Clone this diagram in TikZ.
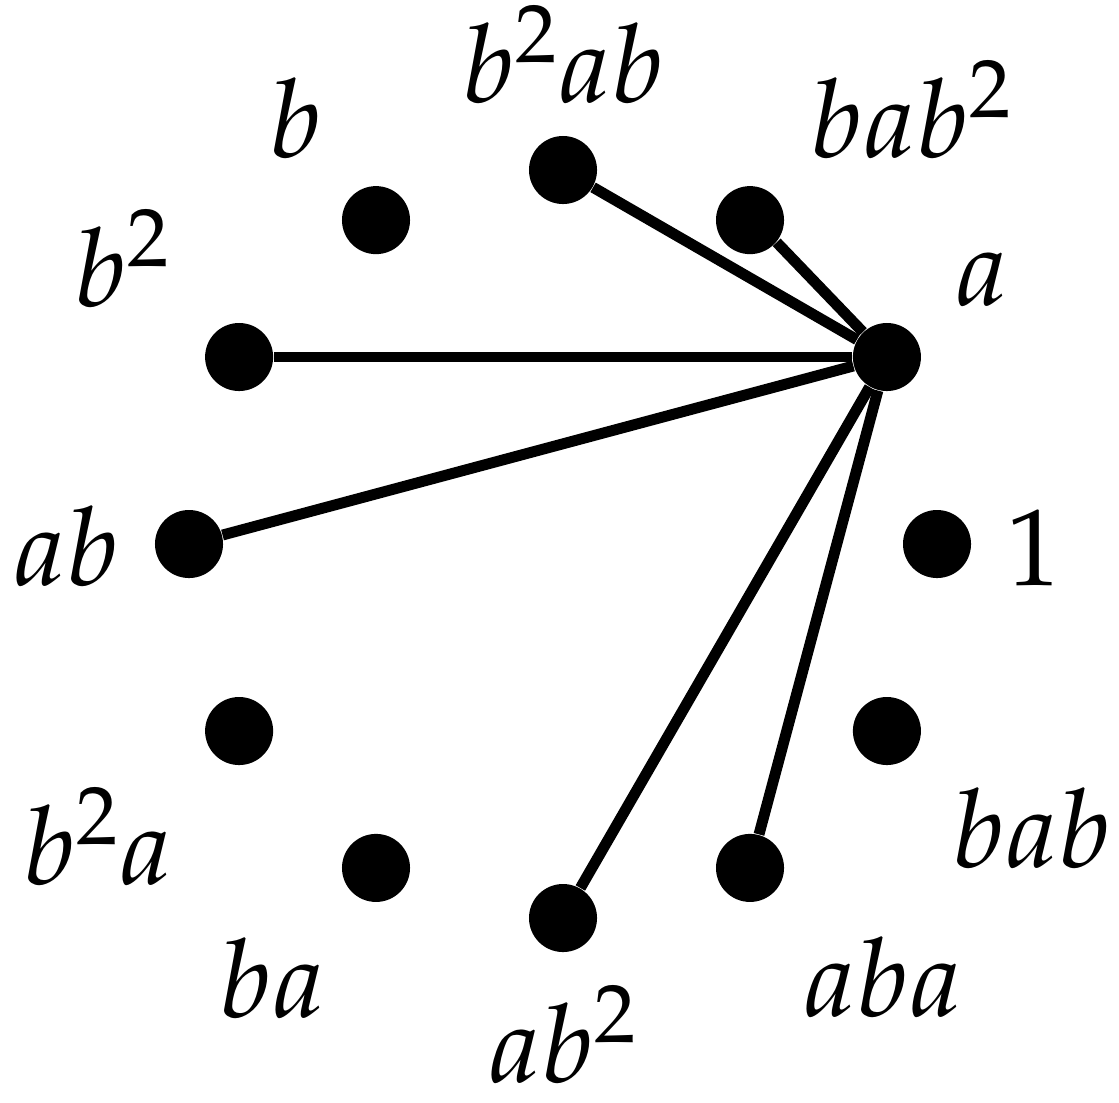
\documentclass[tikz,border=0pt]{standalone}
\usepackage{mathpazo}
\begin{document}
\begin{tikzpicture}[x=0.01cm,y=-0.01cm,
  dot/.style={circle,fill=black,draw=none,minimum size=0.68cm,inner sep=0pt},
  lbl/.style={anchor=base,inner sep=0pt,text depth=0pt,font=\fontsize{31}{36}\selectfont},
  edge/.style={line width=3.1pt,draw=black}]
\useasboundingbox (0,0) rectangle (1119,1102);
\def\R{374}
\foreach \i/\nm in {0/one,1/a,2/babb,3/bbab,4/b,5/bb,6/ab,7/bba,8/ba,9/abb,10/aba,11/bab}{
  \node[dot] (\nm) at ({563+\R*cos(30*\i)},{544-\R*sin(30*\i)}) {};
}
\node[lbl] (lone) at (1034,585) {$1$};
\node[lbl] (la) at (982,305) {$a$};
\node[lbl] (lbabb) at (911,157) {$bab^2$};
\node[lbl] (lbbab) at (563,102) {$b^2ab$};
\node[lbl] (lb) at (296,157) {$b$};
\node[lbl] (lbb) at (122,306) {$b^2$};
\node[lbl] (lab) at (66,585) {$ab$};
\node[lbl] (lbba) at (98,884) {$b^2a$};
\node[lbl] (lba) at (272,1017) {$ba$};
\node[lbl] (labb) at (563,1082) {$ab^2$};
\node[lbl] (laba) at (883,1016) {$aba$};
\node[lbl] (lbab) at (1032,867) {$bab$};
\foreach \t in {bbab,babb,bb,ab,abb,aba}{
  \draw[edge] (a) -- (\t);
}
\end{tikzpicture}
\end{document}
